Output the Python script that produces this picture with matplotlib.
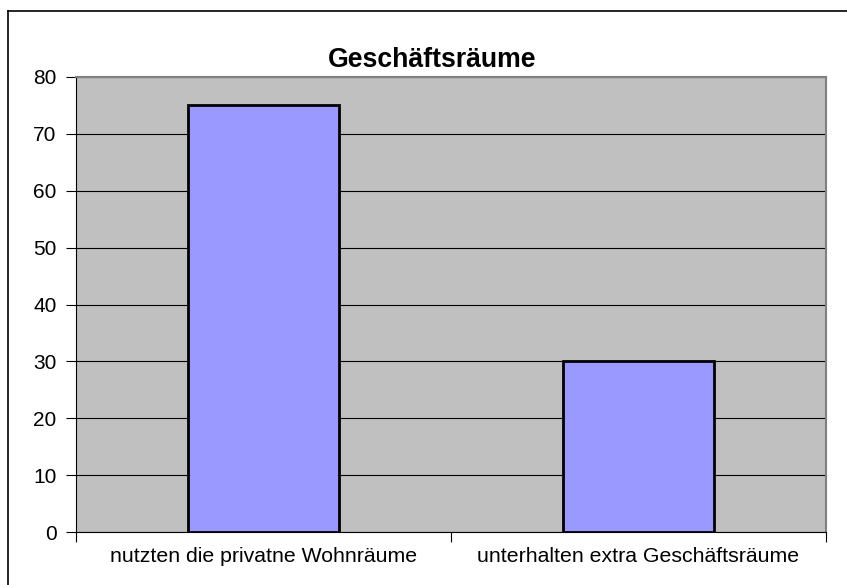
import matplotlib.pyplot as plt
from matplotlib.lines import Line2D

# data
categories = ['nutzten die privatne Wohnräume', 'unterhalten extra Geschäftsräume']
values = [75, 30]
yticks = [0, 10, 20, 30, 40, 50, 60, 70, 80]

plt.rcParams['font.family'] = ['Liberation Sans', 'DejaVu Sans']

fig = plt.figure(figsize=(8.47, 5.85), dpi=100)
ax = fig.add_axes([76 / 847, 1 - 532 / 585, 750 / 847, 455 / 585])

ax.set_facecolor('#C0C0C0')
ax.set_axisbelow(True)
ax.yaxis.grid(True, color='black', linewidth=0.8)

x = range(len(categories))
ax.bar(x, values, width=0.403, color='#9999FF', edgecolor='black', linewidth=2, zorder=3)

ax.set_xlim(-0.5, len(categories) - 0.5)
ax.set_ylim(0, 80)
ax.set_yticks(yticks)

# category labels centered, tick marks between categories
ax.set_xticks([-0.5, 0.5, 1.5])
ax.set_xticklabels([])
ax.set_xticks(list(x), minor=True)
ax.set_xticklabels(categories, minor=True)
ax.tick_params(axis='x', which='minor', length=0, pad=11, labelsize=15.3)
ax.tick_params(axis='x', which='major', length=7, width=0.8)
ax.tick_params(axis='y', length=7, width=0.8, labelsize=15, pad=7)

for side in ['top', 'right']:
    ax.spines[side].set_color('#808080')
    ax.spines[side].set_linewidth(1.5)
ax.spines['left'].set_color('black')
ax.spines['bottom'].set_color('black')

fig.text(432 / 847, 1 - 67 / 585, 'Geschäftsräume', fontsize=19.2, fontweight='bold',
         ha='center', va='baseline')

# outer chart border (left and top only are visible)
fig.add_artist(Line2D([8 / 847, 8 / 847], [0, 1 - 11 / 585], color='black', linewidth=1.2))
fig.add_artist(Line2D([8 / 847, 1], [1 - 11 / 585, 1 - 11 / 585], color='black', linewidth=1.2))

fig.savefig('out.png', dpi=100)
